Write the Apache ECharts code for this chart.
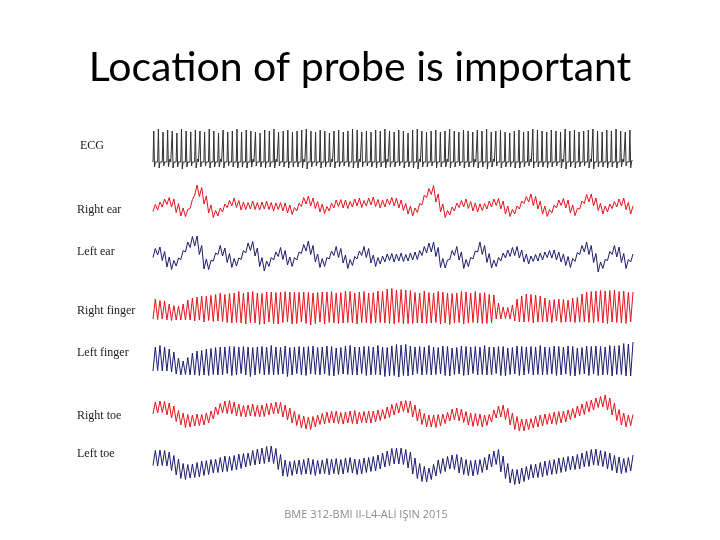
<!DOCTYPE html>
<html>
<head>
<meta charset="utf-8">
<script src="https://cdn.jsdelivr.net/npm/echarts@6/dist/echarts.min.js"></script>
<style>
  html, body { margin: 0; padding: 0; background: #fff; }
  #chart { width: 720px; height: 540px; }
</style>
</head>
<body>
<div id="chart"></div>
<script>
// trace names, top to bottom
var traceNames = ['ECG', 'Right ear', 'Left ear', 'Right finger', 'Left finger', 'Right toe', 'Left toe'];

// ECG: R peak, S dip and T bump per beat (a.u.)
var ecgR = [31,33,30,32,31,29,33,31,30,32, 31,30,33,31,29,32,30,31,33,30,
            32,31,30,29,32,31,33,30,31,32, 30,31,32,33,31,30,32,31,29,31,
            32,30,31,33,32,30,31,30,32,31, 33,31,30,32,31,29,32,33,31,30,
            31,32,30,31,33,31,30,32,31,30, 32,31,33,30,31,32,30,29,31,32,
            30,31,33,32,31,30,32,31,30,33, 31,32,30,31,32,33,31,30,32,31,
            33,31,30,32];
var ecgS = [-5,-6,-4,-5,-6,-5,-7,-5,-4,-6, -5,-4,-6,-5,-5,-6,-4,-5,-6,-5,
            -6,-5,-4,-5,-6,-5,-6,-4,-5,-6, -5,-5,-6,-7,-5,-4,-6,-5,-5,-6,
            -5,-4,-5,-6,-6,-5,-4,-5,-6,-5, -6,-5,-5,-4,-6,-5,-6,-7,-5,-5,
            -4,-6,-5,-5,-6,-5,-4,-6,-5,-5, -6,-5,-7,-5,-4,-6,-5,-5,-6,-6,
            -5,-4,-6,-5,-5,-6,-5,-4,-6,-7, -5,-6,-5,-4,-6,-7,-5,-5,-6,-5,
            -6,-5,-4,-6];
var ecgT = [2,1,2,3,2,1,2,2,1,3, 2,2,1,2,3,2,1,2,2,1, 2,3,2,1,2,2,3,1,2,2,
            1,2,3,2,2,1,2,2,3,2, 1,2,2,1,3,2,2,1,2,2, 3,2,1,2,2,1,2,3,2,1,
            2,2,1,3,2,2,1,2,2,3, 2,1,2,3,2,2,1,2,2,1, 2,3,2,2,1,2,2,1,3,2,
            2,1,2,2,3,2,1,2,2,1, 2,3,2,2];

// pulse traces: slow baseline per beat and beat swing (peak to trough), a.u.
var rEarBase = [-5,-3,0,2,0,-5,-9,-10,-1,13, 11,3,-6,-11,-9,-5,-1,1,-1,-3,
                -3,-2,-3,-3,-2,-3,-4,-3,-4,-6, -8,-4,1,3,1,-2,-5,-7,-4,-1,
                0,-1,-2,0,1,-1,1,2,0,-1, 0,2,1,-1,-4,-7,-9,-5,3,10,
                13,5,-5,-11,-8,-4,-1,0,-2,-4, -5,-4,-2,0,1,-2,-7,-10,-7,-2,
                3,5,2,-2,-7,-10,-6,-1,1,-1, -6,-9,-2,4,5,1,-4,-7,-5,-2,
                0,1,-3,-7];
var rEarSwing = [7,8,8,7,8,9,8,7,9,10, 9,8,8,7,8,8,7,8,7,8, 7,8,7,8,8,7,8,7,8,8,
                 7,8,9,8,8,7,8,7,8,8, 7,8,7,8,8,7,8,8,7,8, 8,7,8,8,7,8,8,9,10,9,
                 9,8,8,7,8,8,7,8,7,8, 8,7,8,8,7,8,8,7,8,8, 7,8,9,8,8,7,8,8,7,8,
                 8,7,8,9,8,8,7,8,8,7, 8,8,7,8];

var lEarBase = [1,3,-2,-8,-11,-8,-1,7,12,13, 4,-10,-11,-3,4,2,-4,-9,-8,-1,
                6,8,2,-8,-12,-8,-2,2,-1,-7, -8,-2,5,8,4,-4,-9,-8,-1,3,
                1,-5,-10,-7,-1,3,1,-5,-8,-6, -4,-3,-4,-3,-4,-3,-2,-1,3,6,
                7,2,-9,-10,-1,3,-2,-10,-8,-1, 7,4,-4,-10,-8,-3,0,2,3,0,
                -4,-6,-4,-3,-2,0,0,-2,-4,-7, -9,-3,4,7,4,-4,-13,-10,-2,4,
                2,-4,-10,-4];
var lEarSwing = [9,8,9,10,9,8,9,10,11,10, 9,10,9,8,9,8,9,9,8,9, 10,9,8,9,10,9,8,9,9,8,
                 9,8,9,10,9,8,9,9,8,9, 9,8,9,9,8,9,9,8,9,8, 8,7,8,8,7,8,8,9,9,10,
                 10,9,9,8,9,9,8,9,9,8, 10,9,9,8,9,8,8,9,9,8, 8,8,7,8,8,7,8,8,8,9,
                 9,9,9,10,9,9,10,9,9,9, 10,9,9,8];

var rFingerBase = [-1,-2,-2, -4,-5,-5,-4, -2,-1,-1,0,-1,0, 0,1,0,0,
                   0,1,0,0,1,0,-1,0,1,0, 0,1,1,0,0,1,0,-1,0,1, 0,1,0,0,1,1,0,0,1,0, 0,1,1,
                   2,2,1,2,1,1,
                   0,0,1,0,0,1,0,0,-1,0, 1,0,0,1,0,0,-1,-1,
                   -3,-5,-5,-4, -2,-1,0,0,-1,-1, -2,-3,-3,-2,-3,-3,-2,-2,
                   0,1,1,1,2,1,1,2,1,1,0,1];
var rFingerSwing = [20,19,18, 16,15,14,16, 20,22,24,24,26,25, 27,28,27,29,
                    30,31,30,32,31,30,31,32,30,31, 32,31,30,32,31,30,31,32,31,30,
                    32,31,30,31,32,31,30,32,31,30, 31,32,31,
                    34,35,34,33,34,33,
                    31,30,32,31,30,31,32,30,31,30, 31,32,30,31,30,31,29,28,
                    16,12,11,14, 22,26,28,27,28,26, 24,22,23,22,23,22,24,25,
                    28,30,31,32,31,32,33,32,31,32,31,30];

var lFingerBase = [1,2,1,0,-2, -6,-8,-6, -4,-3,-3,-2,-2,-1,-1,
                   -1,0,-1,-1,0,-1,-2,-1,0,-1, 0,-1,-1,0,-2,-1,0,-1,-1,0,
                   -1,-1,0,-1,-2,-1,0,0,-1,-1, 0,-1,-1,0,-1,-2,-1,0,-1,0,
                   -1,-1,0,-1,0,-1,-1,0,-1,-2, -1,0,-1,-1,0,-1,0,-1,-1,0,
                   -1,-2,-1,0,-1,-1,0,-1,0,-1, -1,0,-1,-1,0,-1,-2,-1,0,-1,
                   0,-1,-1,0,-1,0,1,0,1];
var lFingerSwing = [24,25,24,22,20, 16,14,17, 22,24,25,26,27,27,28,
                    28,27,29,28,27,28,29,28,27,28, 29,28,27,28,29,28,27,28,29,28, 27,28,
                    28,29,28,27,28,29,28,28,27,29, 28,29,28,29,30,
                    31,32,31,30,
                    28,27,28,29,28,27,28,29,28,27, 28,29,28,27,28,29,28,28,27,29,
                    28,27,28,29,28,27,28,29,28,27, 28,29,28,28,29,28,27,28,29,28,
                    29,28,29,30,29,
                    31,32,34];

var rToeBase = [6,7,7,5,2,-2,-5,-7,-7,-6, -6,-5,-3,1,5,7,7,6,4,3,
                3,4,3,3,4,5,6,6,3,0, -3,-6,-8,-9,-9,-7,-5,-4,-3,-3,
                -4,-4,-3,-3,-4,-3,-3,-3,-2,-1, 1,3,5,7,8,7,3,-1,-5,-7,
                -7,-7,-6,-4,-1,0,-1,-3,-5,-6, -6,-7,-6,-2,2,3,0,-5,-9,-11,
                -11,-10,-8,-7,-6,-5,-4,-4,-3,-2, 0,2,4,6,8,10,12,13,10,5,
                -1,-5,-7,-6];
var rToeSwing = [12,12,11,12,12,11,12,13,12,12, 11,12,12,12,11,12,13,12,12,11,
                 12,12,11,12,13,12,12,11,12,12, 12,11,12,12,13,12,11,12,12,12,
                 11,12,12,13,12,11,12,12,12,11, 12,13,12,12,11,12,12,12,11,12,
                 12,13,12,11,12,12,12,11,12,13, 12,12,11,12,12,12,11,12,13,12,
                 12,11,12,12,12,11,12,13,12,12, 11,12,12,13,12,12,11,12,12,12,
                 11,12,12,11];

var lToeBase = [8,8,8,7,3,-1,-5,-6,-5,-4, -3,-2,-1,0,1,2,2,3,4,5,
                6,8,9,10,11,12,10,4,-2,-3, -2,-1,-1,0,-1,-2,-1,0,-1,0,
                -1,0,1,0,-1,0,1,2,3,5, 7,9,10,10,9,6,0,-5,-8,-9,
                -6,-2,0,2,4,4,1,-1,-2,-2, -1,1,4,7,9,2,-5,-10,-11,-10,
                -8,-6,-5,-4,-3,-2,-1,0,1,2, 3,4,5,7,8,9,8,7,5,3,
                1,0,1,3];
var lToeSwing = [15,16,15,14,15,16,15,15,14,15, 16,15,15,14,15,16,15,15,16,15,
                 14,15,16,16,17,16,15,15,16,15, 15,14,15,16,15,15,14,15,16,15,
                 15,16,15,14,15,16,15,15,16,16, 16,17,16,16,15,16,16,15,15,14,
                 15,16,15,15,14,15,16,15,15,16, 15,15,16,16,15,16,15,14,15,16,
                 15,15,14,15,16,15,15,16,15,15, 14,15,16,16,17,16,15,15,16,15,
                 16,15,15,16];

var RED = '#e3141c';
var NAVY = '#1c1c6e';

// layout of the strips (pixels)
var stripTop = [128, 181, 232, 286, 338, 392, 444];
var stripHeight = [42, 44, 44, 44, 44, 44, 44];
var labelY = [146, 210, 252, 311, 353, 416, 454];
var labelX = [80, 77, 77, 77, 77, 77, 77];

// one beat = flat, R, S, flat, T, flat
function ecg_points() {
    var pts = [];
    for (var i = 0; i < ecgR.length; i++) {
        pts.push(0, ecgR[i], ecgS[i], 0, ecgT[i], 0);
    }
    return pts;
}

function pulse_points(base, swing) {
    var pts = [];
    for (var i = 0; i < base.length; i++) {
        pts.push(base[i] - swing[i] / 2, base[i] + swing[i] / 2);
    }
    return pts;
}

var traces = [
    { data: ecg_points(), color: '#303030', min: -8, max: 34 },
    { data: pulse_points(rEarBase, rEarSwing), color: RED, min: -22, max: 22 },
    { data: pulse_points(lEarBase, lEarSwing), color: NAVY, min: -22, max: 22 },
    { data: pulse_points(rFingerBase, rFingerSwing), color: RED, min: -22, max: 22 },
    { data: pulse_points(lFingerBase, lFingerSwing), color: NAVY, min: -22, max: 22 },
    { data: pulse_points(rToeBase, rToeSwing), color: RED, min: -22, max: 22 },
    { data: pulse_points(lToeBase, lToeSwing), color: NAVY, min: -22, max: 22 }
];

var grids = [], xAxes = [], yAxes = [], series = [], graphics = [];

traces.forEach(function (t, k) {
    var cats = t.data.map(function (v, i) { return i; });
    grids.push({ left: 153, width: 480, top: stripTop[k], height: stripHeight[k] });
    xAxes.push({ type: 'category', gridIndex: k, data: cats, boundaryGap: false, show: false });
    yAxes.push({ type: 'value', gridIndex: k, min: t.min, max: t.max, show: false });
    series.push({
        type: 'line',
        xAxisIndex: k,
        yAxisIndex: k,
        data: t.data,
        symbol: 'none',
        lineStyle: { color: t.color, width: 1 },
        silent: true
    });
    graphics.push({
        type: 'text',
        style: {
            text: traceNames[k],
            x: labelX[k],
            y: labelY[k],
            font: '12px "Liberation Serif"',
            fill: '#1a1a1a',
            textVerticalAlign: 'middle'
        }
    });
});

graphics.push({
    type: 'text',
    style: {
        text: 'Location of probe is important',
        x: 360,
        y: 68,
        font: '41px Lato',
        fill: '#000',
        textAlign: 'center',
        textVerticalAlign: 'middle'
    }
});
graphics.push({
    type: 'text',
    style: {
        text: 'BME 312-BMI II-L4-ALİ IŞIN 2015',
        x: 366,
        y: 515,
        font: '11px "Open Sans"',
        fill: '#8c8c8c',
        textAlign: 'center',
        textVerticalAlign: 'middle'
    }
});

var chart = echarts.init(document.getElementById('chart'));
chart.setOption({
    animation: false,
    backgroundColor: '#fff',
    grid: grids,
    xAxis: xAxes,
    yAxis: yAxes,
    series: series,
    graphic: graphics
});
</script>
</body>
</html>
